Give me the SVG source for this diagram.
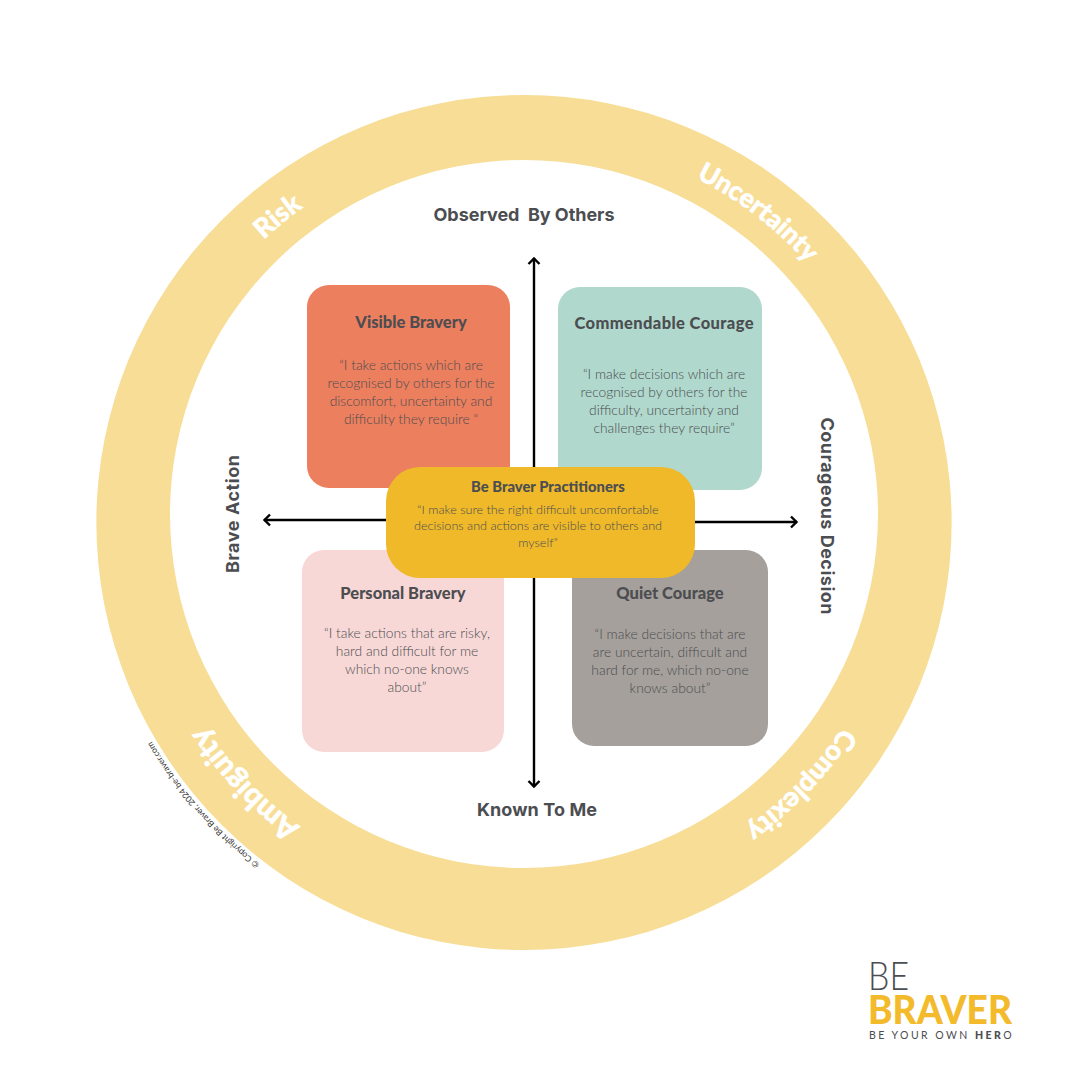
<svg xmlns="http://www.w3.org/2000/svg" width="1080" height="1080" viewBox="0 0 1080 1080">
<style>
text{font-family:Lato,"Open Sans","Liberation Sans",sans-serif;fill:#4c4d51}
.h{font-weight:900;font-size:16.5px;text-anchor:middle}
.b{font-weight:300;font-size:13.8px;text-anchor:middle}
.m{font-weight:300;font-size:12.6px;text-anchor:middle}
.a{font-family:Inter,Lato,"Liberation Sans",sans-serif;font-weight:700;font-size:18px;text-anchor:middle}
.r{font-weight:900;font-size:27px;fill:#fff;stroke:#fff;stroke-width:.5;text-anchor:middle}
.c{fill:none;stroke:#000;stroke-width:2.4;marker-end:url(#arrow)}
</style>
<defs>
<marker id="arrow" viewBox="0 0 14 14" refX="12.5" refY="7" markerWidth="14" markerHeight="14" markerUnits="userSpaceOnUse" orient="auto"><path d="M6.5,1.5 L12,7 L6.5,12.5" fill="none" stroke="#000" stroke-width="2.4"/></marker>
<path id="ringText" d="M524,137 A381,381 0 1 1 524,899 A381,381 0 1 1 524,137"/>
<path id="copyText" d="M524,90 A432,432 0 1 1 524,954 A432,432 0 1 1 524,90"/>
</defs>
<rect width="1080" height="1080" fill="#fff"/>
<g id="ring">
<path fill="#F7DD95" fill-rule="evenodd" d="M524,95 A427.5,427.5 0 1 1 524,950 A427.5,427.5 0 1 1 524,95 Z M524,160 A354,354 0 1 0 524,868 A354,354 0 1 0 524,160 Z"/>
<text class="r" style="font-size:26.5px"><textPath href="#ringText" startOffset="10.4%">Uncertainty</textPath></text>
<text class="r" style="font-size:27.5px"><textPath href="#ringText" startOffset="37.2%">Complexity</textPath></text>
<text class="r" style="font-size:30px"><textPath href="#ringText" startOffset="62.9%">Ambiguity</textPath></text>
<text class="r"><textPath href="#ringText" startOffset="89.1%">Risk</textPath></text>
<text style="font-size:8.5px;fill:#333;text-anchor:middle"><textPath href="#copyText" startOffset="63.5%">© Copyright Be Braver, 2024 be-braver.com</textPath></text>
</g>
<g id="connectors">
<path class="c" d="M534,520 V258"/>
<path class="c" d="M534,520 V787"/>
<path class="c" d="M534,520 H264"/>
<path class="c" d="M534,522 H797"/>
</g>
<g id="axis-labels">
<text class="a" x="524" y="221" xml:space="preserve" textLength="181">Observed  By Others</text>
<text class="a" x="537" y="816" textLength="120">Known To Me</text>
<text class="a" transform="translate(239,514) rotate(-90)" textLength="118">Brave Action</text>
<text class="a" transform="translate(821,516) rotate(90)" textLength="197">Courageous Decision</text>
</g>
<g id="visible-bravery">
<rect x="307" y="285" width="203" height="203" rx="22" fill="#EC7F5E"/>
<text class="h" x="411" y="328">Visible Bravery</text>
<text class="b" x="411" y="370">“I take actions which are</text>
<text class="b" x="411" y="388">recognised by others for the</text>
<text class="b" x="411" y="406">discomfort, uncertainty and</text>
<text class="b" x="411" y="424">difficulty they require “</text>
</g>
<g id="commendable-courage">
<rect x="558" y="287" width="204" height="203" rx="22" fill="#B0D8CC"/>
<text class="h" x="664" y="329" textLength="179">Commendable Courage</text>
<text class="b" x="664" y="379">“I make decisions which are</text>
<text class="b" x="664" y="397">recognised by others for the</text>
<text class="b" x="664" y="415">difficulty, uncertainty and</text>
<text class="b" x="664" y="433">challenges they require”</text>
</g>
<g id="personal-bravery">
<rect x="302" y="550" width="202" height="202" rx="22" fill="#F7D8D6"/>
<text class="h" x="403" y="599">Personal Bravery</text>
<text class="b" x="407" y="638">“I take actions that are risky,</text>
<text class="b" x="407" y="656">hard and difficult for me</text>
<text class="b" x="407" y="674">which no-one knows</text>
<text class="b" x="407" y="692">about”</text>
</g>
<g id="quiet-courage">
<rect x="572" y="550" width="196" height="196" rx="22" fill="#A5A09B"/>
<text class="h" x="670" y="599">Quiet Courage</text>
<text class="b" x="670" y="639">“I make decisions that are</text>
<text class="b" x="670" y="657">are uncertain, difficult and</text>
<text class="b" x="670" y="675">hard for me, which no-one</text>
<text class="b" x="670" y="693">knows about”</text>
</g>
<g id="practitioners">
<rect x="386" y="467" width="309" height="111" rx="34" fill="#EFB929"/>
<text class="h" x="548" y="492" style="font-size:14.8px">Be Braver Practitioners</text>
<text class="m" x="538" y="514">“I make sure the right difficult uncomfortable</text>
<text class="m" x="538" y="530">decisions and actions are visible to others and</text>
<text class="m" x="538" y="547">myself”</text>
</g>
<g id="logo">
<text x="868" y="990" style="font-size:40px;font-weight:300" textLength="41" lengthAdjust="spacingAndGlyphs">BE</text>
<text x="868" y="1024" style="font-size:39px;font-weight:900;fill:#F3BA2B" textLength="144" lengthAdjust="spacingAndGlyphs">BRAVER</text>
<text x="869" y="1039" style="font-size:10.5px;letter-spacing:2.45px">BE YOUR OWN <tspan font-weight="900">HER</tspan>O</text>
</g>
</svg>
